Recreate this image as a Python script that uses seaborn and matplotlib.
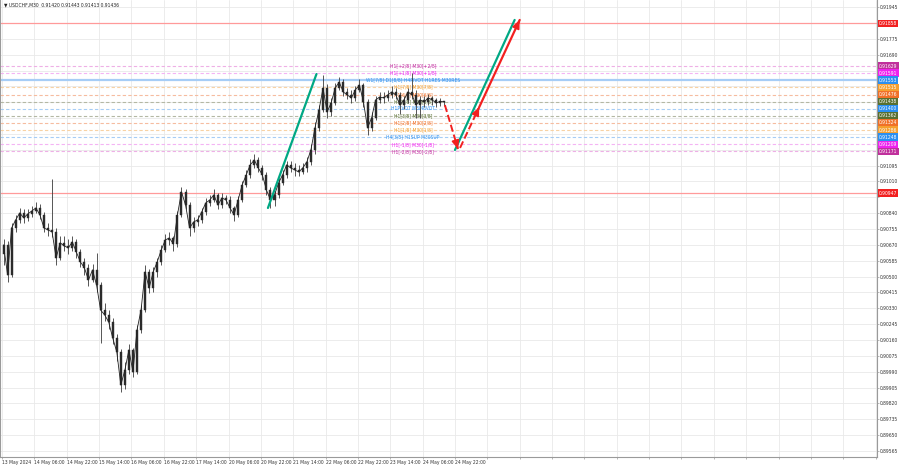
#! /usr/bin/env python
'''
USDCHF M30 chart with Murrey levels and forecast arrows
'''
# imports
import matplotlib
matplotlib.use('Agg')
import matplotlib.pyplot as plt
import matplotlib.transforms as mtransforms
import numpy as np
import pandas as pd
import seaborn as sns

# settings
sns.set_style("ticks")
plt.rcParams['font.family'] = ['Liberation Sans Narrow', 'DejaVu Sans']
plt.rcParams['font.stretch'] = 'condensed'

symbol = 'USDCHF,M30'
last_ohlc = ['0.91420', '0.91443', '0.91413', '0.91436']

# DATA: 2-hour candles, starting 13 May 14:00
first_open = 0.90620
closes = [0.90670, 0.90509, 0.90761, 0.90804, 0.90841, 0.90815, 0.90836, 0.90852, 0.90868, 0.90831,
          0.90761, 0.90750, 0.90740, 0.90600, 0.90681, 0.90665, 0.90654, 0.90686, 0.90632, 0.90579,
          0.90547, 0.90482, 0.90536, 0.90455, 0.90321, 0.90295, 0.90257, 0.90171, 0.90096, 0.89919,
          0.89999, 0.90107, 0.89989, 0.90214, 0.90321, 0.90525, 0.90439, 0.90525, 0.90579, 0.90643,
          0.90697, 0.90707, 0.90675, 0.90831, 0.90954, 0.90884, 0.90761, 0.90793, 0.90804, 0.90847,
          0.90895, 0.90911, 0.90938, 0.90884, 0.90922, 0.90911, 0.90868, 0.90831, 0.90911, 0.90991,
          0.91045, 0.91099, 0.91125, 0.91083, 0.91045, 0.90965, 0.90911, 0.90938, 0.91002, 0.91045,
          0.91099, 0.91083, 0.91072, 0.91061, 0.91083, 0.91115, 0.91179, 0.91297, 0.91393, 0.91511,
          0.91383, 0.91431, 0.91511, 0.91543, 0.91490, 0.91474, 0.91458, 0.91501, 0.91527, 0.91436,
          0.91297, 0.91351, 0.91447, 0.91463, 0.91458, 0.91474, 0.91490, 0.91474, 0.91420, 0.91447,
          0.91490, 0.91474, 0.91420, 0.91447, 0.91436, 0.91458, 0.91447, 0.91431, 0.91440, 0.91436]
highs = [0.90700, 0.90690, 0.90790, 0.90830, 0.90870, 0.90860, 0.90860, 0.90880, 0.90900, 0.90890,
         0.90845, 0.90790, 0.91025, 0.90760, 0.90720, 0.90720, 0.90700, 0.90720, 0.90700, 0.90650,
         0.90600, 0.90570, 0.90570, 0.90627, 0.90470, 0.90360, 0.90320, 0.90280, 0.90190, 0.90110,
         0.90040, 0.90140, 0.90120, 0.90240, 0.90350, 0.90560, 0.90540, 0.90550, 0.90600, 0.90670,
         0.90730, 0.90740, 0.90720, 0.90850, 0.90980, 0.90970, 0.90900, 0.90820, 0.90830, 0.90870,
         0.90920, 0.90940, 0.90970, 0.90950, 0.90950, 0.90940, 0.90930, 0.90880, 0.90930, 0.91010,
         0.91070, 0.91130, 0.91160, 0.91140, 0.91100, 0.91060, 0.90980, 0.90960, 0.91030, 0.91070,
         0.91120, 0.91120, 0.91110, 0.91100, 0.91110, 0.91140, 0.91210, 0.91330, 0.91420, 0.91580,
         0.91530, 0.91460, 0.91540, 0.91570, 0.91560, 0.91510, 0.91500, 0.91520, 0.91560, 0.91540,
         0.91450, 0.91380, 0.91470, 0.91490, 0.91490, 0.91500, 0.91520, 0.91510, 0.91490, 0.91470,
         0.91510, 0.91590, 0.91500, 0.91470, 0.91470, 0.91480, 0.91470, 0.91460, 0.91460, 0.91443]
lows = [0.90560, 0.90470, 0.90500, 0.90740, 0.90790, 0.90790, 0.90800, 0.90820, 0.90840, 0.90810,
        0.90740, 0.90720, 0.90710, 0.90560, 0.90590, 0.90640, 0.90620, 0.90640, 0.90600, 0.90550,
        0.90510, 0.90450, 0.90470, 0.90420, 0.90145, 0.90260, 0.90220, 0.90140, 0.90050, 0.89882,
        0.89900, 0.89980, 0.89960, 0.89980, 0.90200, 0.90310, 0.90410, 0.90420, 0.90500, 0.90560,
        0.90630, 0.90670, 0.90640, 0.90660, 0.90820, 0.90860, 0.90720, 0.90740, 0.90770, 0.90790,
        0.90830, 0.90880, 0.90900, 0.90860, 0.90870, 0.90890, 0.90840, 0.90800, 0.90820, 0.90900,
        0.90980, 0.91030, 0.91080, 0.91060, 0.91020, 0.90940, 0.90868, 0.90880, 0.90920, 0.90990,
        0.91030, 0.91060, 0.91040, 0.91040, 0.91050, 0.91060, 0.91100, 0.91160, 0.91280, 0.91380,
        0.91350, 0.91360, 0.91420, 0.91500, 0.91470, 0.91450, 0.91430, 0.91440, 0.91490, 0.91410,
        0.91259, 0.91280, 0.91340, 0.91430, 0.91430, 0.91440, 0.91460, 0.91450, 0.91370, 0.91400,
        0.91430, 0.91450, 0.91350, 0.91350, 0.91410, 0.91420, 0.91420, 0.91410, 0.91415, 0.91413]

time_labels = ['13 May 2024', '14 May 06:00', '14 May 22:00', '15 May 14:00', '16 May 06:00',
               '16 May 22:00', '17 May 14:00', '20 May 06:00', '20 May 22:00', '21 May 14:00',
               '22 May 06:00', '22 May 22:00', '23 May 14:00', '24 May 06:00', '24 May 22:00']

# Murrey levels
level_prices = [0.91629, 0.91591, 0.91553, 0.91515, 0.91476, 0.91438, 0.91400,
                0.91362, 0.91324, 0.91286, 0.91248, 0.91209, 0.91171]
level_names = ['H1[+2/8] M30[+2/8]', 'H1[+1/8] M30[+1/8]', 'W1[7/8] D1[8/8] H4PIVOT H1RES M30RES',
               'H1[7/8] M30[7/8]', 'H1[6/8] M30[6/8]', 'H1[5/8] M30[5/8]', 'H1PIVOT M30PIVOT',
               'H1[3/8] M30[3/8]', 'H1[2/8] M30[2/8]', 'H1[1/8] M30[1/8]', 'H4[3/8] H1SUP M30SUP',
               'H1[-1/8] M30[-1/8]', 'H1[-2/8] M30[-2/8]']
level_kinds = ['far', 'near', 'blue', 'orange', 'red', 'olive', 'blue',
               'olive', 'red', 'orange', 'blue', 'near', 'far']
red_levels = [0.91858, 0.90947]

# forecast sketch (bar, price)
green_1_bar, green_1_price = [263, 311], [0.90868, 0.91586]
green_2_bar, green_2_price = [448, 507], [0.91179, 0.91876]
red_down_bar, red_down_price = [438, 451], [0.91420, 0.91184]
red_dash_bar, red_dash_price = [453, 472], [0.91190, 0.91409]
red_up_bar, red_up_price = [472, 512], [0.91409, 0.91876]

# styles
kind_text = {'far':'#c0309c', 'near':'#ee22ee', 'blue':'#2a8ff0', 'orange':'#f5a030',
             'red':'#f07028', 'olive':'#587030'}
kind_line = {'far':'#eeb0e6', 'near':'#f4b4f4', 'blue':'#a6cdf6', 'orange':'#f8d2a4',
             'red':'#f6bca0', 'olive':'#b4b8a4'}
candle_col = '#2b2b2b'
red = '#f22020'
green = '#00a884'
bars_per_candle = 4
bars_per_label = 32
fs = 3.6

opens = [first_open] + closes[:-1]
df = pd.DataFrame({'bar':np.arange(len(closes))*bars_per_candle + 1.5,
                   'open':opens, 'close':closes, 'high':highs, 'low':lows})

fig = plt.figure(figsize=(9, 4.68), dpi=100)
ax = fig.add_axes([0.0, 0.0235, 0.974, 0.9765])
ax.set_xlim(-2, 865)
ax.set_ylim(0.89533, 0.91983)

# grid
ticks = np.round(0.89565 + 0.00085*np.arange(29), 5)
ax.set_yticks(ticks)
ax.set_xticks(np.arange(0, 865, bars_per_label))
ax.grid(True, color='#e9e9e9', lw=0.6, zorder=0)

# levels
for p in red_levels:
    ax.axhline(p, color='#ff9a9a', lw=0.9, zorder=1)
for p, name, kind in zip(level_prices, level_names, level_kinds):
    if kind == 'blue' and 'W1' in name:
        ax.axhline(p, color=kind_line[kind], lw=1.6, zorder=1)
    else:
        ax.axhline(p, color=kind_line[kind], lw=0.8, ls=(0, (3, 2)), zorder=1)
    ax.text(406.5, p, name, color=kind_text[kind], fontsize=fs, ha='center', va='center', zorder=2)

# candles
ax.vlines(df['bar'], df['low'], df['high'], color='#3a3a3a', lw=0.6, zorder=3)
ax.bar(df['bar'], df['close']-df['open'], bottom=df['open'], width=2.0,
       color=candle_col, edgecolor=candle_col, lw=0.3, zorder=3)
sns.lineplot(data=df, x='bar', y='close', color='#222222', lw=0.6, ax=ax, zorder=3)

# forecast lines
sns.lineplot(x=green_1_bar, y=green_1_price, color=green, lw=1.6, ax=ax, zorder=4)
sns.lineplot(x=green_2_bar, y=green_2_price, color=green, lw=1.6, ax=ax, zorder=4)
sns.lineplot(x=red_down_bar, y=red_down_price, color=red, lw=1.4, ls='--', ax=ax, zorder=4)
sns.lineplot(x=red_dash_bar, y=red_dash_price, color=red, lw=1.4, ls='--', ax=ax, zorder=4)
sns.lineplot(x=red_up_bar, y=red_up_price, color=red, lw=1.6, ax=ax, zorder=4)
for xs, ys in [(red_down_bar, red_down_price), (red_dash_bar, red_dash_price), (red_up_bar, red_up_price)]:
    back = (xs[1] - 0.05*(xs[1]-xs[0]), ys[1] - 0.05*(ys[1]-ys[0]))
    ax.annotate('', xy=(xs[1], ys[1]), xytext=back,
                arrowprops=dict(arrowstyle='-|>,head_length=0.5,head_width=0.22', color=red, lw=1.2), zorder=5)

# axes look
ax.spines['top'].set_visible(False)
for s in ['left', 'right', 'bottom']:
    ax.spines[s].set_color('#9a9a9a')
    ax.spines[s].set_linewidth(0.8)
ax.yaxis.tick_right()
labelled = red_levels + level_prices
ylabels = ['' if min(abs(t-p) for p in labelled) < 0.0004 else '%.5f' % t for t in ticks]
ax.set_yticklabels(ylabels, fontsize=fs, color='#333333')
xlabels = time_labels + ['']*(len(ax.get_xticks())-len(time_labels))
ax.set_xticklabels(xlabels, fontsize=fs, color='#333333', ha='left')
ax.tick_params(axis='both', length=1.5, width=0.5, color='#9a9a9a', pad=0.8)

# price boxes on the right axis
trans = mtransforms.blended_transform_factory(ax.transAxes, ax.transData)
for p in red_levels:
    ax.text(1.0025, p, '%.5f' % p, transform=trans, fontsize=fs, color='white', va='center', ha='left',
            bbox=dict(boxstyle='square,pad=0.25', fc=red, ec='none'), clip_on=False)
for p, kind in zip(level_prices, level_kinds):
    ax.text(1.0025, p, '%.5f' % p, transform=trans, fontsize=fs, color='white', va='center', ha='left',
            bbox=dict(boxstyle='square,pad=0.25', fc=kind_text[kind], ec='none'), clip_on=False)

# header
ax.text(0.004, 0.995, '\u25bc ' + symbol + '  ' + ' '.join(last_ohlc), transform=ax.transAxes,
        fontsize=fs, color='#222222', va='top', ha='left')
ax.set_xlabel(''); ax.set_ylabel('')

fig.savefig('out.png', dpi=100)
plt.close()
